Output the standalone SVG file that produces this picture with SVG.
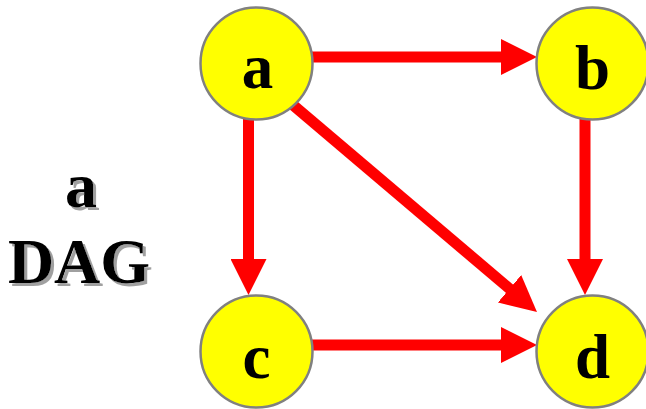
<svg xmlns="http://www.w3.org/2000/svg" width="646" height="409" viewBox="0 0 646 409">
<style>
.edge{stroke:#FF0000;stroke-width:11;fill:none;marker-end:url(#ah)}
.node{fill:#FFFF00;stroke:#808080;stroke-width:2.5}
.lbl{font-family:"Liberation Serif","Times New Roman",serif;font-weight:bold;font-size:63px;text-anchor:middle;fill:#000}
.title{font-family:"Liberation Serif","Times New Roman",serif;font-weight:bold;font-size:64px;text-anchor:middle;fill:#000;filter:url(#sh)}
</style>
<defs>
<marker id="ah" markerUnits="userSpaceOnUse" markerWidth="36" markerHeight="36" viewBox="0 0 36 36" refX="1" refY="18" orient="auto">
<path d="M0,0 L36,18 L0,36 Z" fill="#FF0000"/>
</marker>
<filter id="sh" x="-10%" y="-10%" width="130%" height="130%">
<feDropShadow dx="3" dy="3" stdDeviation="0.6" flood-color="#A0A0A0" flood-opacity="1"/>
</filter>
</defs>
<rect width="646" height="409" fill="#FFFFFF"/>
<g id="title">
<text class="title" x="81" y="207">a</text>
<text class="title" x="79" y="283">DAG</text>
</g>
<g id="connectors">
<line class="edge" x1="300" y1="57" x2="502" y2="57"/>
<line class="edge" x1="248.5" y1="110" x2="248.5" y2="260"/>
<line class="edge" x1="585" y1="110" x2="585" y2="260"/>
<line class="edge" x1="300" y1="345" x2="502" y2="345"/>
<line class="edge" x1="280" y1="94" x2="510.3" y2="289.4"/>
</g>
<g id="node-a"><circle class="node" cx="256.5" cy="63.5" r="56"/><text class="lbl" x="257.5" y="88">a</text></g>
<g id="node-b"><circle class="node" cx="592.5" cy="63.5" r="56"/><text class="lbl" x="592.5" y="89">b</text></g>
<g id="node-c"><circle class="node" cx="256.5" cy="351.5" r="56"/><text class="lbl" x="256.5" y="378">c</text></g>
<g id="node-d"><circle class="node" cx="592.5" cy="351.5" r="56"/><text class="lbl" x="592.5" y="378">d</text></g>
</svg>
